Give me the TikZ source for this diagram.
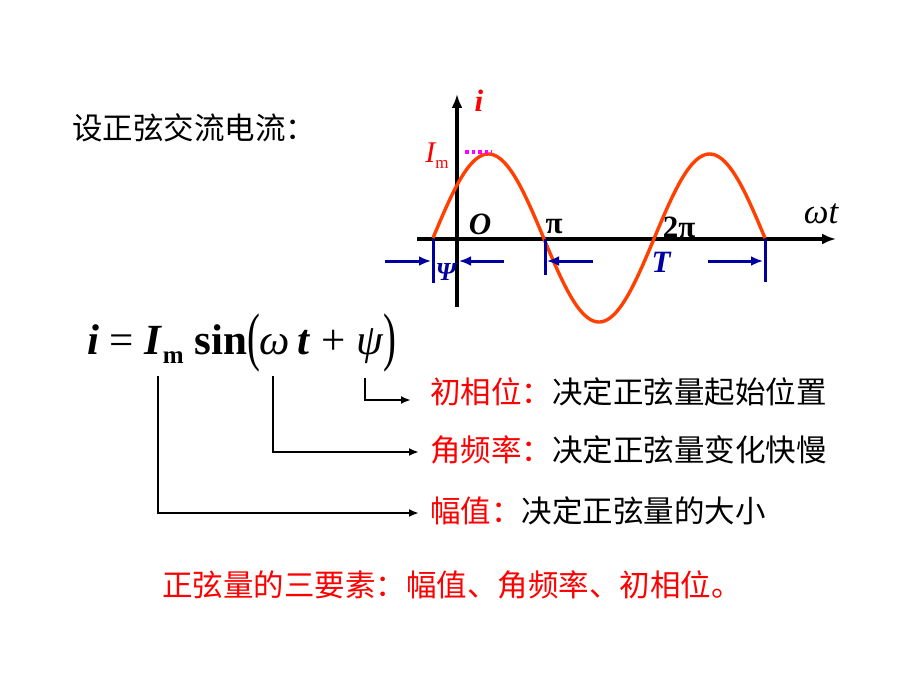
\documentclass[tikz,border=0pt]{standalone}
\usepackage{fontspec}
\setmainfont{Liberation Serif}
\newfontfamily\cjk{Noto Sans CJK SC}
\usetikzlibrary{arrows,arrows.meta,positioning}
\definecolor{wavered}{RGB}{255,64,0}
\definecolor{navy}{RGB}{0,0,160}
\definecolor{txtred}{RGB}{255,0,0}
\definecolor{pinkdot}{RGB}{255,0,255}
\begin{document}
\begin{tikzpicture}[x=1pt,y=-1pt,
  cn/.style={font=\cjk\fontsize{30.5}{30.5}\selectfont,inner sep=0pt,anchor=west},
  lbl/.style={inner sep=0pt},
  axis/.style={line width=3.4pt,-{Latex[length=14pt,width=11pt]}},
  tickln/.style={navy,line width=3pt},
  span/.style={navy,line width=3pt,-{Latex[length=12pt,width=10pt]}},
  brk/.style={line width=2.2pt,-{Latex[length=10pt,width=8pt]}}]
\useasboundingbox (0,0) rectangle (920,690);

\node[cn] (title) at (72,128) {设正弦交流电流：};

\coordinate (xl) at (417,239);
\coordinate (xr) at (836,239);
\coordinate (yb) at (457,307);
\coordinate (yt) at (457,94);
\draw[axis] (xl) -- (xr);
\draw[axis] (yb) -- (yt);

\draw[wavered,line width=3.4pt] plot[domain=433:765,samples=150,smooth] (\x,{238-84*sin((\x-433)/221.3*360)});
\draw[pinkdot,line width=3.2pt,dash pattern=on 3.5pt off 3pt] (465,152) -- (492,152);

\node[lbl,txtred,font=\fontsize{31}{31}\selectfont\bfseries\itshape] (il) at (479,101) {i};
\node[lbl,txtred,font=\fontsize{30}{30}\selectfont\itshape] (iml) at (437,156) {I\raisebox{-6pt}{\fontsize{17}{17}\selectfont\upshape m}};
\node[lbl,font=\fontsize{31}{31}\selectfont\bfseries\itshape] (ol) at (480,224) {O};
\node[lbl,font=\fontsize{31}{31}\selectfont\bfseries] (pil) at (554,227) {π};
\node[lbl,font=\fontsize{31}{31}\selectfont\bfseries] (tpil) at (679,227) {2π};
\node[lbl,font=\fontsize{35}{35}\selectfont\itshape] (wtl) at (821,214) {ωt};

\coordinate (m1t) at (433,239);
\coordinate (m1b) at (433,283);
\coordinate (m2t) at (545,239);
\coordinate (m2b) at (545,275);
\coordinate (m3t) at (765,239);
\coordinate (m3b) at (765,282);
\draw[tickln] (m1t) -- (m1b);
\draw[tickln] (m2t) -- (m2b);
\draw[tickln] (m3t) -- (m3b);

\coordinate (a1) at (385,261);
\coordinate (a2) at (504,261);
\coordinate (a3) at (593,261);
\coordinate (a4) at (708,261);
\draw[span] (a1) -- ([xshift=-2pt]m1b |- a1);
\draw[span] (a2) -- ([xshift=2pt]yb |- a2);
\draw[span] (a3) -- ([xshift=2pt]m2b |- a3);
\draw[span] (a4) -- ([xshift=-2pt]m3b |- a4);
\node[lbl,navy,font=\fontsize{26}{26}\selectfont\bfseries\itshape] (psil) at (446,272) {Ψ};
\node[lbl,navy,font=\fontsize{31}{31}\selectfont\bfseries\itshape] (tl) at (661,262) {T};

\node[lbl,anchor=base west,font=\fontsize{43}{43}\selectfont] (eq) at (87,354)
  {\textbf{\textit{i}} = \textbf{\textit{I}}\raisebox{-9pt}{\fontsize{25}{25}\selectfont\textbf{m}} \textbf{sin}\raisebox{-4pt}{\scalebox{0.9}[1.5]{(}}\textit{ω}\,\textbf{\textit{t}} + \textit{ψ}\raisebox{-4pt}{\scalebox{0.9}[1.5]{)}}};

\node[cn] (phase) at (430,392) {\textcolor{txtred}{初相位：}决定正弦量起始位置};
\node[cn] (freq) at (430,450) {\textcolor{txtred}{角频率：}决定正弦量变化快慢};
\node[cn] (amp) at (430,511) {\textcolor{txtred}{幅值：}决定正弦量的大小};

\coordinate (b1) at (158,376);
\coordinate (b2) at (273,376);
\coordinate (b3) at (365,378);
\coordinate (e1) at (419,513);
\coordinate (e2) at (419,452);
\coordinate (e3) at (411,400);
\draw[brk] (b1) |- (e1);
\draw[brk] (b2) |- (e2);
\draw[brk] (b3) |- (e3);

\node[cn,txtred] (sum) at (162,585) {正弦量的三要素：幅值、角频率、初相位。};
\end{tikzpicture}
\end{document}
